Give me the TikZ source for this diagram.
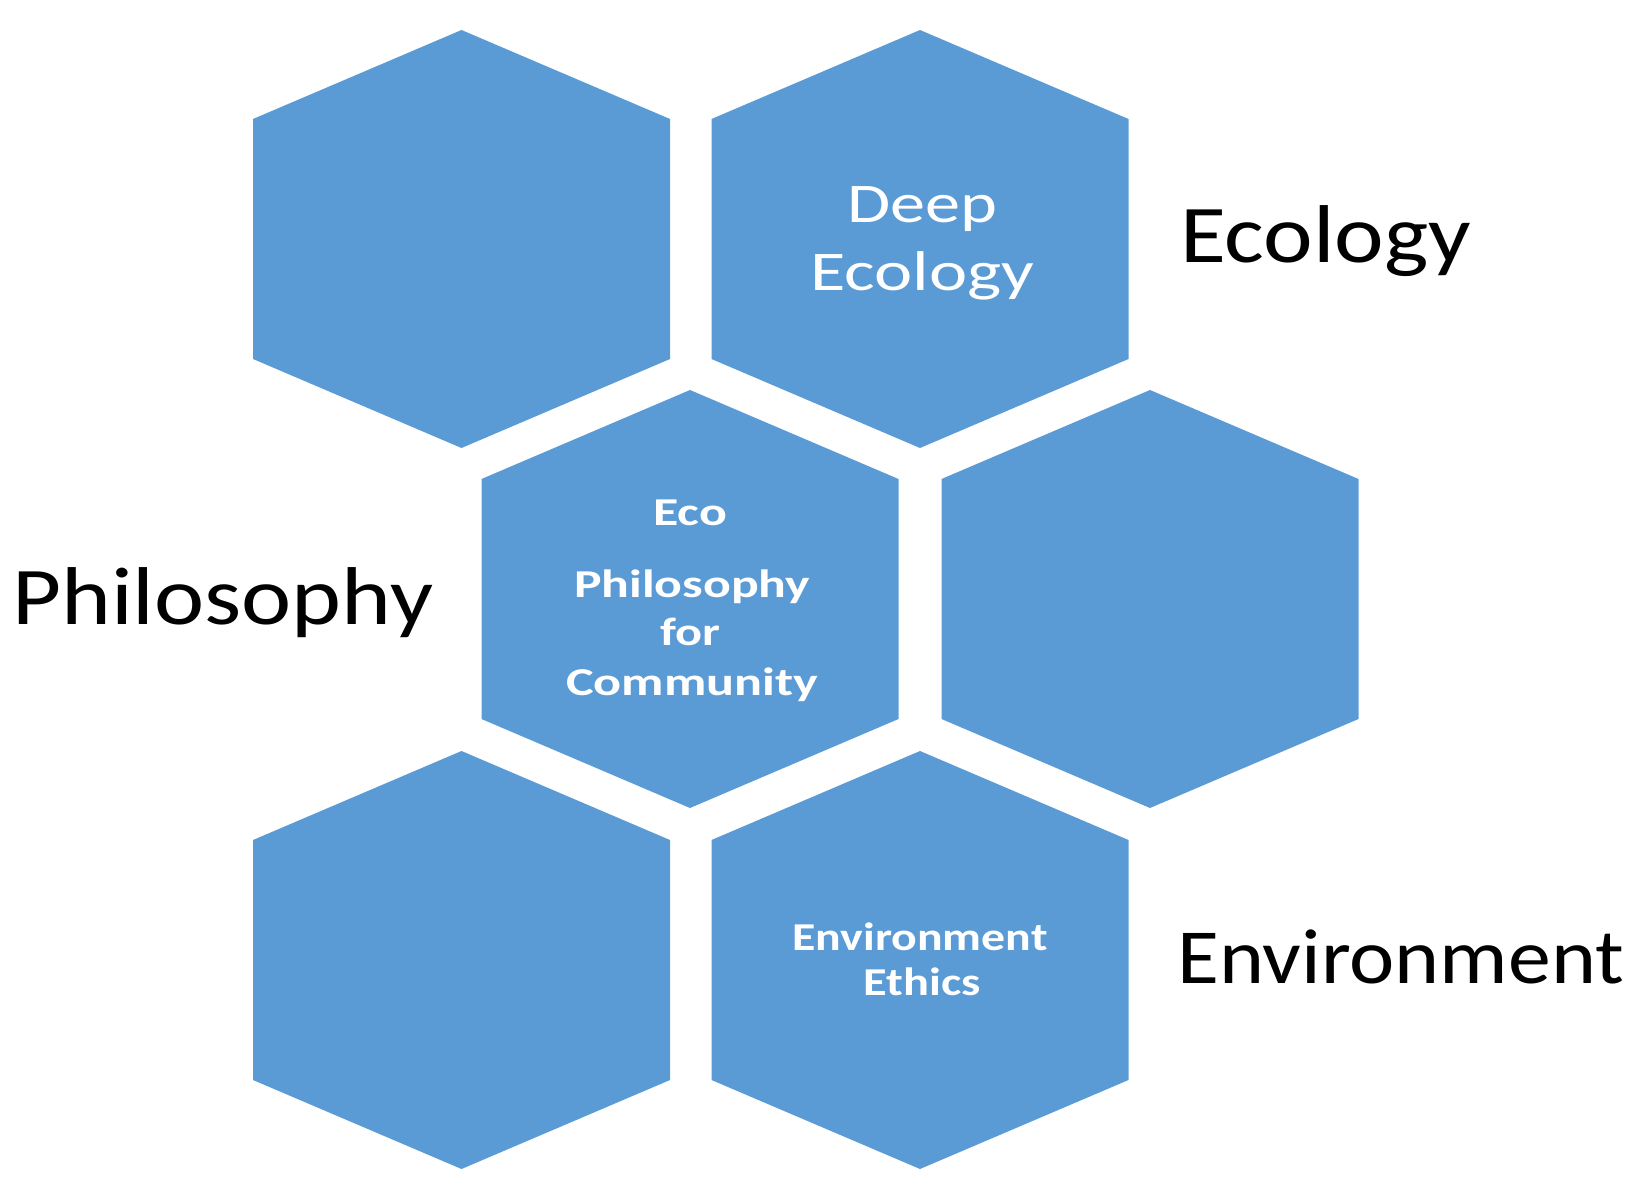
\documentclass[tikz,border=0pt]{standalone}
\usepackage{fontspec}
\setmainfont{Carlito}
\usepackage{graphicx}
\definecolor{hexblue}{HTML}{5B9BD5}
\newlength\natw
\newcommand\fitw[2]{\settowidth{\natw}{#2}\pgfmathsetmacro\fitratio{#1/\natw}\scalebox{\fitratio}[1]{#2}}
\tikzset{
  hexfill/.style={fill=hexblue},
  pics/hexcell/.style={code={\fill[hexfill] (0,-209) -- (208.5,-120) -- (208.5,120) -- (0,209) -- (-208.5,120) -- (-208.5,-120) -- cycle;}},
  intext/.style={text=white, inner sep=0pt, anchor=base},
  deeptext/.style={intext, font=\fontsize{56}{66}\selectfont},
  boldtext/.style={intext, font=\bfseries\fontsize{39.5}{48}\selectfont},
  sidelabel/.style={text=black, inner sep=0pt, anchor=base west, font=\fontsize{82}{98}\selectfont},
}
\begin{document}
\begin{tikzpicture}[x=1pt,y=-1pt]
\useasboundingbox (0,0) rectangle (1638,1196);
% hexagons
\pic (hexTL) at (461.5,239) {hexcell};
\pic (hexTR) at (920,239) {hexcell};
\pic (hexML) at (690,599) {hexcell};
\pic (hexMR) at (1150,599) {hexcell};
\pic (hexBL) at (461.5,960) {hexcell};
\pic (hexBR) at (920,960) {hexcell};
% inner texts
\node[deeptext] (deep1) at (922,222) {\fitw{150}{Deep}};
\node[deeptext] (deep2) at (922,290) {\fitw{224}{Ecology}};
\node[boldtext] (eco1) at (690,525) {\fitw{74}{Eco}};
\node[boldtext] (eco2) at (692,597) {\fitw{236}{Philosophy}};
\node[boldtext] (eco3) at (690,645) {\fitw{60}{for}};
\node[boldtext] (eco4) at (692,695) {\fitw{252}{Community}};
\node[boldtext] (env1) at (920,950) {\fitw{255}{Environment}};
\node[boldtext] (env2) at (922,995) {\fitw{117}{Ethics}};
% side labels
\node[sidelabel] (labEco) at (1180,262) {\fitw{291}{Ecology}};
\node[sidelabel] (labPhil) at (12,624) {\fitw{421}{Philosophy}};
\node[sidelabel, font=\fontsize{78}{94}\selectfont] (labEnv) at (1177,983) {\fitw{447}{Environment}};
\end{tikzpicture}
\end{document}
